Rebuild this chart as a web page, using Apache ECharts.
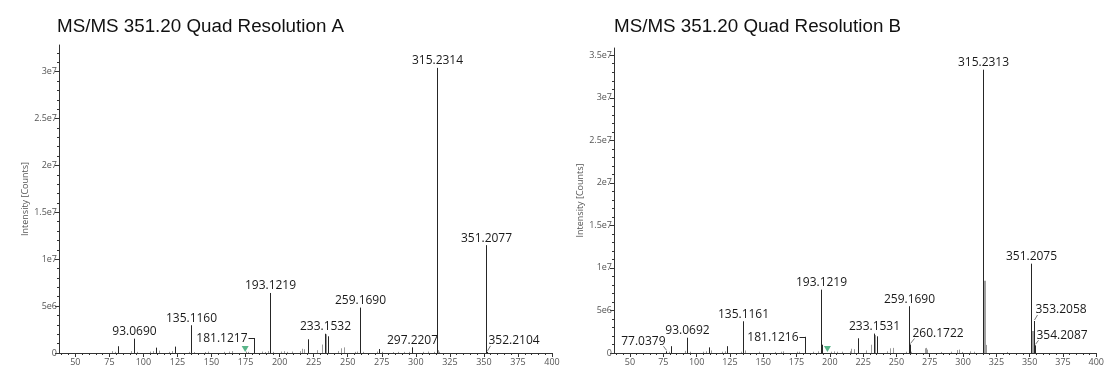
<!DOCTYPE html>
<html>
<head>
<meta charset="utf-8">
<script src="https://cdn.jsdelivr.net/npm/echarts@6/dist/echarts.min.js"></script>
<style>
  html, body { margin: 0; padding: 0; background: #ffffff; }
  #chart { width: 1107px; height: 371px; }
</style>
</head>
<body>
<div id="chart"></div>
<script>
// ---- Titles -------------------------------------------------------------
const titleA = 'MS/MS 351.20 Quad Resolution A';
const titleB = 'MS/MS 351.20 Quad Resolution B';
const yAxisName = 'Intensity [Counts]';

// ---- Axis ranges and tick labels ---------------------------------------
const mzRange = [38, 400];
const mzTicks = [50, 75, 100, 125, 150, 175, 200, 225, 250, 275, 300, 325, 350, 375, 400];
const intensityMaxA = 3.284e7;
const intensityMaxB = 3.585e7;
const intensityTicksA = [0, 5e6, 1e7, 1.5e7, 2e7, 2.5e7, 3e7];
const intensityTicksB = [0, 5e6, 1e7, 1.5e7, 2e7, 2.5e7, 3e7, 3.5e7];

// ---- Spectrum A: annotated peaks [m/z, counts] -------------------------
const labelledA = [
  [93.0690, 1.53e6], [135.1160, 2.96e6], [181.1217, 1.60e6], [193.1219, 6.40e6],
  [233.1532, 2.05e6], [259.1690, 4.84e6], [297.2207, 0.60e6], [315.2314, 3.04e7],
  [351.2077, 1.15e7], [352.2104, 0.12e6]
];
// other strong fragments (not annotated)
const strongA = [
  [81.07, 0.72e6], [109.10, 0.57e6], [123.12, 0.68e6], [221.15, 1.46e6],
  [235.17, 1.78e6], [273.19, 0.42e6]
];
// weak background peaks
const weakA = [
  [77.04, 0.20e6], [79.05, 0.12e6], [91.05, 0.20e6], [95.09, 0.12e6], [105.07, 0.15e6],
  [107.09, 0.20e6], [111.08, 0.25e6], [119.09, 0.12e6], [121.10, 0.20e6], [133.10, 0.12e6],
  [137.10, 0.10e6], [145.10, 0.10e6], [147.12, 0.15e6], [159.12, 0.12e6], [163.11, 0.15e6],
  [165.13, 0.20e6], [175.12, 0.15e6], [177.13, 0.12e6], [187.11, 0.15e6], [189.13, 0.10e6],
  [191.14, 0.20e6], [195.14, 0.12e6], [201.13, 0.15e6], [203.14, 0.20e6], [205.16, 0.12e6],
  [209.15, 0.15e6], [215.14, 0.20e6], [216.15, 0.45e6], [218.14, 0.40e6], [227.13, 0.30e6],
  [231.14, 0.90e6], [234.16, 2.00e6], [243.16, 0.20e6], [245.17, 0.50e6], [247.17, 0.60e6],
  [255.20, 0.12e6], [257.18, 0.15e6], [261.20, 0.12e6], [271.20, 0.15e6], [275.20, 0.12e6],
  [283.20, 0.10e6], [287.20, 0.12e6], [291.20, 0.12e6], [295.20, 0.12e6], [305.20, 0.12e6],
  [309.20, 0.15e6], [313.20, 0.12e6], [316.23, 0.30e6], [317.20, 0.12e6]
];
const precursorMarkA = [[174.7, 0]];

// ---- Spectrum B ---------------------------------------------------------
const labelledB = [
  [77.0379, 0.20e6], [93.0692, 1.80e6], [135.1161, 3.73e6], [181.1216, 1.90e6],
  [193.1219, 7.45e6], [233.1531, 2.28e6], [259.1690, 5.50e6], [260.1722, 1.00e6],
  [315.2313, 3.33e7], [351.2075, 1.05e7], [353.2058, 3.76e6], [354.2087, 0.90e6]
];
const strongB = [
  [81.07, 0.80e6], [109.10, 0.66e6], [123.12, 0.80e6], [194.12, 0.97e6],
  [221.15, 1.73e6], [235.17, 1.96e6]
];
const weakB = [
  [79.05, 0.15e6], [91.05, 0.25e6], [95.09, 0.15e6], [105.07, 0.15e6], [107.09, 0.20e6],
  [111.08, 0.30e6], [119.09, 0.15e6], [121.10, 0.20e6], [133.10, 0.15e6], [136.12, 0.30e6],
  [147.12, 0.15e6], [159.12, 0.12e6], [163.11, 0.15e6], [165.13, 0.20e6], [175.12, 0.15e6],
  [177.13, 0.15e6], [187.11, 0.15e6], [191.14, 0.20e6], [201.13, 0.15e6], [203.14, 0.20e6],
  [205.16, 0.15e6], [209.15, 0.15e6], [215.14, 0.20e6], [216.15, 0.50e6], [218.14, 0.45e6],
  [227.13, 0.30e6], [231.14, 0.97e6], [234.16, 2.10e6], [243.16, 0.20e6], [245.17, 0.55e6],
  [247.17, 0.60e6], [257.18, 0.15e6], [261.20, 0.15e6], [271.20, 0.55e6], [272.19, 0.60e6],
  [273.19, 0.40e6], [283.20, 0.12e6], [291.20, 0.15e6], [295.20, 0.35e6], [297.22, 0.40e6],
  [299.20, 0.12e6], [305.20, 0.20e6], [308.20, 0.15e6], [317.24, 0.95e6], [333.20, 0.12e6]
];
// isotope peaks drawn as broader grey sticks
const isotopeB = [[316.23, 8.5e6], [352.21, 2.6e6]];
const precursorMarkB = [[198.2, 0]];

// ---- Label placement for annotations that sit beside their peak --------
// side 'left': text to the left with a short horizontal connector
// side 'right' / 'leftSlash': text raised beside the peak with a slanted leader
const labelPlacement = {
  '181.1217': { side: 'left' },
  '181.1216': { side: 'left' },
  '352.2104': { side: 'right', dx: 1, rise: 8 },
  '260.1722': { side: 'right', dx: 2, rise: 8 },
  '353.2058': { side: 'right', dx: 1, rise: 8 },
  '354.2087': { side: 'right', dx: 1, rise: 7 },
  '77.0379':  { side: 'leftSlash', dx: -1, rise: 7 }
};

// ---- Styling ------------------------------------------------------------
const axisColor = '#333333';
const tickLabelColor = '#555555';
const peakDark = '#262626';
const peakGrey = '#9a9a9a';
const labelFont = '12px "Open Sans", "Noto Sans", sans-serif';

function minorValues(from, to, step) {
  const out = [];
  for (let v = from; v <= to + 1e-9; v += step) out.push(v);
  return out;
}

function formatIntensity(v) {
  if (v === 0) return '0';
  return v.toExponential().replace('+', '');
}

function stickRenderer(color, width) {
  return function (params, api) {
    const base = api.coord([api.value(0), 0]);
    const top = api.coord([api.value(0), api.value(1)]);
    const x = width % 2 === 1 ? Math.round(base[0]) + 0.5 : Math.round(base[0]);
    return {
      type: 'line',
      shape: { x1: x, y1: base[1], x2: x, y2: top[1] },
      style: { stroke: color, lineWidth: width },
      silent: true
    };
  };
}

function labelledRenderer(params, api) {
  const mz = api.value(0);
  const base = api.coord([mz, 0]);
  const top = api.coord([mz, api.value(1)]);
  const x = Math.round(base[0]) + 0.5;
  const text = mz.toFixed(4);
  const children = [{
    type: 'line',
    shape: { x1: x, y1: base[1], x2: x, y2: top[1] },
    style: { stroke: peakDark, lineWidth: 1 }
  }];
  const place = labelPlacement[text];
  const textStyle = { text: text, fill: '#1a1a1a', font: labelFont };
  if (!place) {
    children.push({
      type: 'text', x: x, y: top[1] - 1,
      style: Object.assign(textStyle, { align: 'center', verticalAlign: 'bottom' })
    });
  } else if (place.side === 'left') {
    const ty = Math.round(top[1]) + 0.5;
    children.push({
      type: 'line',
      shape: { x1: x - 6, y1: ty, x2: x, y2: ty },
      style: { stroke: peakDark, lineWidth: 1 }
    });
    children.push({
      type: 'text', x: x - 7, y: top[1] + 1,
      style: Object.assign(textStyle, { align: 'right', verticalAlign: 'middle' })
    });
  } else if (place.side === 'right') {
    children.push({
      type: 'line',
      shape: { x1: x, y1: top[1] - 1, x2: x + place.dx + 2, y2: top[1] - place.rise + 2 },
      style: { stroke: '#555', lineWidth: 0.8 }
    });
    children.push({
      type: 'text', x: x + place.dx, y: top[1] - place.rise + 3,
      style: Object.assign(textStyle, { align: 'left', verticalAlign: 'bottom' })
    });
  } else {
    children.push({
      type: 'line',
      shape: { x1: x, y1: top[1] - 1, x2: x - 3, y2: top[1] - place.rise + 2 },
      style: { stroke: '#555', lineWidth: 0.8 }
    });
    children.push({
      type: 'text', x: x + place.dx, y: top[1] - place.rise + 3,
      style: Object.assign(textStyle, { align: 'right', verticalAlign: 'bottom' })
    });
  }
  return { type: 'group', children: children, silent: true };
}

function mzAxes(gridIndex) {
  const common = { type: 'value', gridIndex: gridIndex, min: mzRange[0], max: mzRange[1], position: 'bottom', splitLine: { show: false } };
  return [
    Object.assign({}, common, {
      axisLine: { show: true, lineStyle: { color: axisColor, width: 1 } },
      axisTick: { show: true, length: 4, customValues: mzTicks, lineStyle: { color: axisColor } },
      axisLabel: { show: true, customValues: mzTicks, margin: 5, color: tickLabelColor, fontSize: 9, fontFamily: '"Open Sans", "Noto Sans", sans-serif' }
    }),
    Object.assign({}, common, {
      axisLine: { show: false },
      axisTick: { show: true, length: 2, customValues: minorValues(40, 400, 5), lineStyle: { color: axisColor } },
      axisLabel: { show: false }
    })
  ];
}

function intensityAxes(gridIndex, max, ticks) {
  const common = { type: 'value', gridIndex: gridIndex, min: 0, max: max, position: 'left', splitLine: { show: false } };
  return [
    Object.assign({}, common, {
      name: yAxisName, nameLocation: 'middle', nameGap: 25,
      nameTextStyle: { color: tickLabelColor, fontSize: 9, fontFamily: '"Open Sans", "Noto Sans", sans-serif' },
      axisLine: { show: true, lineStyle: { color: axisColor, width: 1 } },
      axisTick: { show: true, length: 4, customValues: ticks, lineStyle: { color: axisColor } },
      axisLabel: { show: true, customValues: ticks, margin: 2, color: tickLabelColor, fontSize: 9,
        fontFamily: '"Open Sans", "Noto Sans", sans-serif', formatter: formatIntensity }
    }),
    Object.assign({}, common, {
      axisLine: { show: false },
      axisTick: { show: true, length: 2, customValues: minorValues(0, max, 1e6), lineStyle: { color: axisColor } },
      axisLabel: { show: false }
    })
  ];
}

function spectrumSeries(axisIdx, labelled, strong, weak, isotopes, marker) {
  const ax = { xAxisIndex: axisIdx, yAxisIndex: axisIdx };
  const list = [
    Object.assign({ type: 'custom', renderItem: stickRenderer(peakGrey, 1), data: weak, z: 2 }, ax),
    Object.assign({ type: 'custom', renderItem: stickRenderer(peakDark, 1), data: strong, z: 3 }, ax)
  ];
  if (isotopes.length) {
    list.push(Object.assign({ type: 'custom', renderItem: stickRenderer('#a0a0a0', 2), data: isotopes, z: 2 }, ax));
  }
  list.push(Object.assign({ type: 'custom', renderItem: labelledRenderer, data: labelled, z: 4 }, ax));
  list.push(Object.assign({
    type: 'scatter', data: marker, symbol: 'triangle', symbolRotate: 180,
    symbolSize: [7, 6], symbolOffset: [0, -4], itemStyle: { color: '#2fa36b' }, z: 5, silent: true
  }, ax));
  return list;
}

const chart = echarts.init(document.getElementById('chart'), null, { renderer: 'canvas' });
const titleStyle = { fontFamily: '"Liberation Sans", Arial, sans-serif', fontSize: 18.8, fontWeight: 'normal', color: '#111111' };

chart.setOption({
  animation: false,
  backgroundColor: '#ffffff',
  title: [
    { text: titleA, left: 57, top: 17, padding: 0, textStyle: titleStyle },
    { text: titleB, left: 614, top: 17, padding: 0, textStyle: titleStyle }
  ],
  grid: [
    { left: 59, top: 45, width: 493, bottom: 18 },
    { left: 614, top: 48, width: 493, bottom: 18 }
  ],
  xAxis: mzAxes(0).concat(mzAxes(1)),
  yAxis: intensityAxes(0, intensityMaxA, intensityTicksA).concat(intensityAxes(1, intensityMaxB, intensityTicksB)),
  series: spectrumSeries(0, labelledA, strongA, weakA, [], precursorMarkA)
    .concat(spectrumSeries(2, labelledB, strongB, weakB, isotopeB, precursorMarkB))
});
</script>
</body>
</html>
